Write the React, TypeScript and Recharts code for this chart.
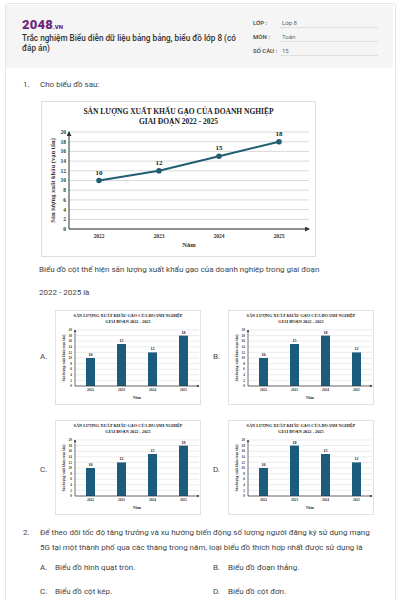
import React from 'react'
import { LineChart, Line, BarChart, Bar, XAxis, YAxis, CartesianGrid, LabelList } from 'recharts'

const years = ['2022', '2023', '2024', '2025']
const exportValues = [10, 12, 15, 18]
const optionA = [10, 15, 12, 18]
const optionB = [10, 15, 18, 12]
const optionC = [10, 12, 15, 18]
const optionD = [10, 18, 15, 12]
const yTicks = [0, 2, 4, 6, 8, 10, 12, 14, 16, 18, 20]

const chartTitle1 = 'SẢN LƯỢNG XUẤT KHẨU GẠO CỦA DOANH NGHIỆP'
const chartTitle2 = 'GIAI ĐOẠN 2022 - 2025'
const yTitle = 'Sản lượng xuất khẩu (vạn tấn)'
const xTitle = 'Năm'

const toRows = (vals: number[]) => years.map((year, i) => ({ year, value: vals[i] }))

const SERIF = '"Liberation Serif", "Times New Roman", serif'
const SANS = 'Roboto, "Noto Sans", sans-serif'
const BLUE = '#1b5b7b'
const TEAL = '#215e74'

function Arrow({ id, size }: { id: string; size: number }) {
    return (
        <defs>
            <marker id={id} markerWidth={size} markerHeight={size} refX={size * 0.8} refY={size / 2}
                orient="auto-start-reverse" markerUnits="userSpaceOnUse">
                <path d={`M0,0 L${size},${size / 2} L0,${size} z`} fill="#333" />
            </marker>
        </defs>
    )
}

function MainChart() {
    return (
        <div style={{ position: 'absolute', left: 41, top: 101, width: 275, height: 156, boxShadow: 'inset 0 0 0 1px #dedede' }}>
            <div style={{ position: 'absolute', top: 6, left: 0, width: 275, textAlign: 'center', fontFamily: SERIF, fontWeight: 700, fontSize: 7.5, lineHeight: '10px', color: '#222' }}>
                <div>{chartTitle1}</div>
                <div>{chartTitle2}</div>
            </div>
            <div style={{ position: 'absolute', left: 0, top: 0 }}>
                <LineChart width={275} height={156} data={toRows(exportValues)} margin={{ top: 31, right: 7, bottom: 0, left: 0 }}>
                    <Arrow id="arrMain" size={5} />
                    <CartesianGrid vertical={false} stroke="#d9d9d9" />
                    <XAxis dataKey="year" height={28} padding={{ left: 30, right: 30 }} tickLine={false} tickSize={0} tickMargin={5}
                        axisLine={{ stroke: '#333', markerEnd: 'url(#arrMain)' }}
                        tick={{ fontFamily: SERIF, fontWeight: 700, fontSize: 5.5, fill: '#333' }}
                        label={{ value: xTitle, position: 'insideBottom', offset: 10, style: { fontFamily: SERIF, fontWeight: 700, fontSize: 6.5, fill: '#333' } }} />
                    <YAxis width={28} domain={[0, 20]} ticks={yTicks} tickLine={false} tickSize={0} tickMargin={3} interval={0}
                        axisLine={{ stroke: '#333', markerStart: 'url(#arrMain)' }}
                        tick={{ fontFamily: SERIF, fontWeight: 700, fontSize: 5.5, fill: '#333' }}
                        label={{ value: yTitle, angle: -90, position: 'insideLeft', offset: 12, style: { textAnchor: 'middle', fontFamily: SERIF, fontWeight: 700, fontSize: 6.5, fill: '#333' } }} />
                    <Line type="linear" dataKey="value" stroke={TEAL} strokeWidth={2} dot={{ r: 1.8, fill: TEAL, stroke: TEAL }} isAnimationActive={false}>
                        <LabelList dataKey="value" position="top" offset={6} style={{ fontFamily: SERIF, fontWeight: 700, fontSize: 7, fill: '#222' }} />
                    </Line>
                </LineChart>
            </div>
        </div>
    )
}

function OptionChart({ id, values, left, top }: { id: string; values: number[]; left: number; top: number }) {
    return (
        <div style={{ position: 'absolute', left, top, width: 146, height: 95, boxShadow: 'inset 0 0 0 1px #e2e2e2' }}>
            <div style={{ position: 'absolute', top: 3, left: 0, width: 146, textAlign: 'center', fontFamily: SERIF, fontWeight: 700, fontSize: 4.3, lineHeight: '6px', color: '#222' }}>
                <div>{chartTitle1}</div>
                <div>{chartTitle2}</div>
            </div>
            <div style={{ position: 'absolute', left: 0, top: 0 }}>
                <BarChart width={146} height={95} data={toRows(values)} margin={{ top: 20, right: 2, bottom: 0, left: 0 }}>
                    <Arrow id={id} size={3} />
                    <CartesianGrid vertical={false} stroke="#dedede" strokeWidth={0.6} />
                    <XAxis dataKey="year" height={19} tickLine={false} tickSize={0} tickMargin={2}
                        axisLine={{ stroke: '#333', strokeWidth: 0.7, markerEnd: `url(#${id})` }}
                        tick={{ fontFamily: SERIF, fontWeight: 700, fontSize: 3.6, fill: '#333' }}
                        label={{ value: xTitle, position: 'insideBottom', offset: 6, style: { fontFamily: SERIF, fontWeight: 700, fontSize: 3.8, fill: '#333' } }} />
                    <YAxis width={20} domain={[0, 20]} ticks={yTicks} tickLine={false} tickSize={0} tickMargin={3} interval={0}
                        axisLine={{ stroke: '#333', strokeWidth: 0.7, markerStart: `url(#${id})` }}
                        tick={{ fontFamily: SERIF, fontWeight: 700, fontSize: 3.4, fill: '#333' }}
                        label={{ value: yTitle, angle: -90, position: 'insideLeft', offset: 9, style: { textAnchor: 'middle', fontFamily: SERIF, fontWeight: 700, fontSize: 3.6, fill: '#333' } }} />
                    <Bar dataKey="value" fill={BLUE} barSize={9} isAnimationActive={false}>
                        <LabelList dataKey="value" position="top" offset={2} style={{ fontFamily: SERIF, fontWeight: 700, fontSize: 4, fill: '#222' }} />
                    </Bar>
                </BarChart>
            </div>
        </div>
    )
}

const txt = (left: number, top: number, s: string, extra: React.CSSProperties = {}) => (
    <div style={{ position: 'absolute', left, top, fontFamily: SANS, fontSize: 8, lineHeight: '10px', color: '#444', whiteSpace: 'nowrap', ...extra }}>{s}</div>
)

export default function App() {
    return (
        <div style={{ position: 'absolute', left: 0, top: 0, width: 400, height: 600, background: '#fff', overflow: 'hidden' }}>
            <div style={{ position: 'absolute', left: 5, top: 3, width: 389, height: 620, border: '1px solid #e6e6e6', borderRadius: 3 }} />
            <div style={{ position: 'absolute', left: 6, top: 5, width: 387, height: 63, background: '#f5f5f5' }} />

            <div style={{ position: 'absolute', left: 22, top: 14, fontFamily: SANS, color: '#6b2a78', whiteSpace: 'nowrap' }}>
                <span style={{ fontSize: 13, fontWeight: 900, letterSpacing: 0.2 }}>2048</span>
                <span style={{ fontSize: 6, fontWeight: 900 }}>.VN</span>
            </div>
            <div style={{ position: 'absolute', left: 22, top: 34, width: 220, fontFamily: SANS, fontSize: 8.2, fontWeight: 500, lineHeight: '9.5px', color: '#333' }}>
                Trắc nghiệm Biểu diễn dữ liệu bảng bảng, biểu đồ lớp 8 (có đáp án)
            </div>

            {txt(253, 18, 'LỚP :', { fontSize: 6, fontWeight: 500, color: '#444' })}
            {txt(282, 18, 'Lớp 8', { fontSize: 6, color: '#666' })}
            <div style={{ position: 'absolute', left: 280, top: 27, width: 98, borderTop: '1px solid #e0e0e0' }} />
            {txt(253, 32, 'MÔN :', { fontSize: 6, fontWeight: 500, color: '#444' })}
            {txt(282, 32, 'Toán', { fontSize: 6, color: '#666' })}
            <div style={{ position: 'absolute', left: 280, top: 41, width: 98, borderTop: '1px solid #e0e0e0' }} />
            {txt(253, 46, 'SỐ CÂU :', { fontSize: 6, fontWeight: 500, color: '#444' })}
            {txt(282, 46, '15', { fontSize: 6, color: '#666' })}
            <div style={{ position: 'absolute', left: 280, top: 55, width: 98, borderTop: '1px solid #e0e0e0' }} />

            {txt(23, 80, '1.')}
            {txt(40, 80, 'Cho biểu đồ sau:')}
            <MainChart />
            {txt(39, 265, 'Biểu đồ cột thể hiện sản lượng xuất khẩu gạo của doanh nghiệp trong giai đoạn')}
            {txt(39, 288, '2022 - 2025 là')}

            {txt(40, 352, 'A.')}
            <OptionChart id="arrA" values={optionA} left={55} top={310} />
            {txt(213, 352, 'B.')}
            <OptionChart id="arrB" values={optionB} left={228} top={310} />
            {txt(40, 465, 'C.')}
            <OptionChart id="arrC" values={optionC} left={55} top={420} />
            {txt(213, 465, 'D.')}
            <OptionChart id="arrD" values={optionD} left={228} top={420} />

            {txt(23, 528, '2.')}
            {txt(40, 528, 'Để theo dõi tốc độ tăng trưởng và xu hướng biến động số lượng người đăng ký sử dụng mạng')}
            {txt(40, 543, '5G tại một thành phố qua các tháng trong năm, loại biểu đồ thích hợp nhất được sử dụng là')}
            {txt(40, 563, 'A.')}
            {txt(55, 563, 'Biểu đồ hình quạt tròn.')}
            {txt(213, 563, 'B.')}
            {txt(228, 563, 'Biểu đồ đoạn thẳng.')}
            {txt(40, 587, 'C.')}
            {txt(55, 587, 'Biểu đồ cột kép.')}
            {txt(213, 587, 'D.')}
            {txt(228, 587, 'Biểu đồ cột đơn.')}
        </div>
    )
}
